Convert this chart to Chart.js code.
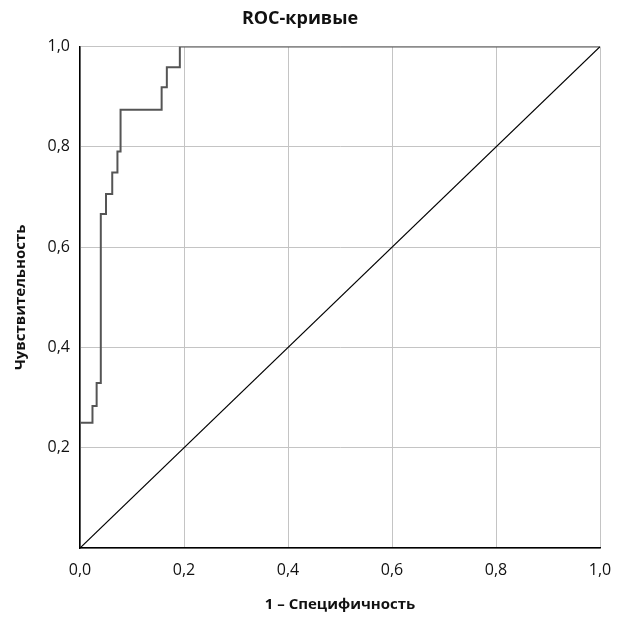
<!DOCTYPE html>
<html>
<head>
<meta charset="utf-8">
<script src="https://cdn.jsdelivr.net/npm/chart.js@4"></script>
<style>
  html, body { margin: 0; padding: 0; background: #fff; }
  #wrap { width: 631px; height: 634px; }
</style>
</head>
<body>
<div id="wrap"><canvas id="myChart" width="631" height="634"></canvas></div>
<script>
// ROC curve vertices (1 - specificity, sensitivity), drawn as steps
const fprValues = [0, 0.024, 0.032, 0.040, 0.050, 0.062, 0.072, 0.078, 0.157, 0.167, 0.192, 1.0];
const tprValues = [0, 0.25, 0.283, 0.329, 0.666, 0.706, 0.749, 0.791, 0.874, 0.919, 0.959, 1.0];
// reference diagonal
const diagX = [0, 1];
const diagY = [0, 1];

const rocPoints = fprValues.map((x, i) => ({ x: x, y: tprValues[i] }));
const diagPoints = diagX.map((x, i) => ({ x: x, y: diagY[i] }));

const fmt = v => Number(v).toFixed(1).replace('.', ',');

new Chart("myChart", {
    type: "scatter",
    data: {
        datasets: [{
            data: diagPoints,
            showLine: true,
            borderColor: "#000",
            borderWidth: 1.2,
            pointRadius: 0
        }, {
            data: rocPoints,
            showLine: true,
            stepped: "after",
            borderColor: "#555",
            borderWidth: 2,
            pointRadius: 0
        }]
    },
    options: {
        responsive: false,
        animation: false,
        layout: { padding: { left: 0, right: 31, top: 0, bottom: 0 } },
        plugins: {
            legend: { display: false },
            tooltip: { enabled: false },
            title: {
                display: true,
                text: "ROC-кривые",
                color: "#111",
                font: { family: "Open Sans", size: 18, weight: "bold" },
                padding: { top: 8, bottom: 17 }
            }
        },
        scales: {
            x: {
                type: "linear",
                min: 0,
                max: 1,
                ticks: {
                    stepSize: 0.2,
                    padding: 13,
                    color: "#111",
                    font: { family: "Open Sans", size: 16 },
                    callback: fmt
                },
                grid: { color: "#c4c4c4", lineWidth: 1, drawTicks: false },
                border: { color: "#000", width: 1.5 },
                title: {
                    display: true,
                    text: "1 – Специфичность",
                    color: "#111",
                    font: { family: "Open Sans", size: 15, weight: "bold" },
                    padding: { top: 10, bottom: 20 }
                },
                afterFit: s => { s.height = 86; }
            },
            y: {
                type: "linear",
                min: 0,
                max: 1,
                ticks: {
                    stepSize: 0.2,
                    padding: 10,
                    color: "#111",
                    font: { family: "Open Sans", size: 16 },
                    callback: v => v === 0 ? "" : fmt(v)
                },
                grid: { color: "#c4c4c4", lineWidth: 1, drawTicks: false },
                border: { color: "#000", width: 1.5 },
                title: {
                    display: true,
                    text: "Чувствительность",
                    color: "#111",
                    font: { family: "Open Sans", size: 15, weight: "bold" },
                    padding: { top: 12, bottom: 0 }
                },
                afterFit: s => { s.width = 80; }
            }
        }
    }
});
</script>
</body>
</html>
